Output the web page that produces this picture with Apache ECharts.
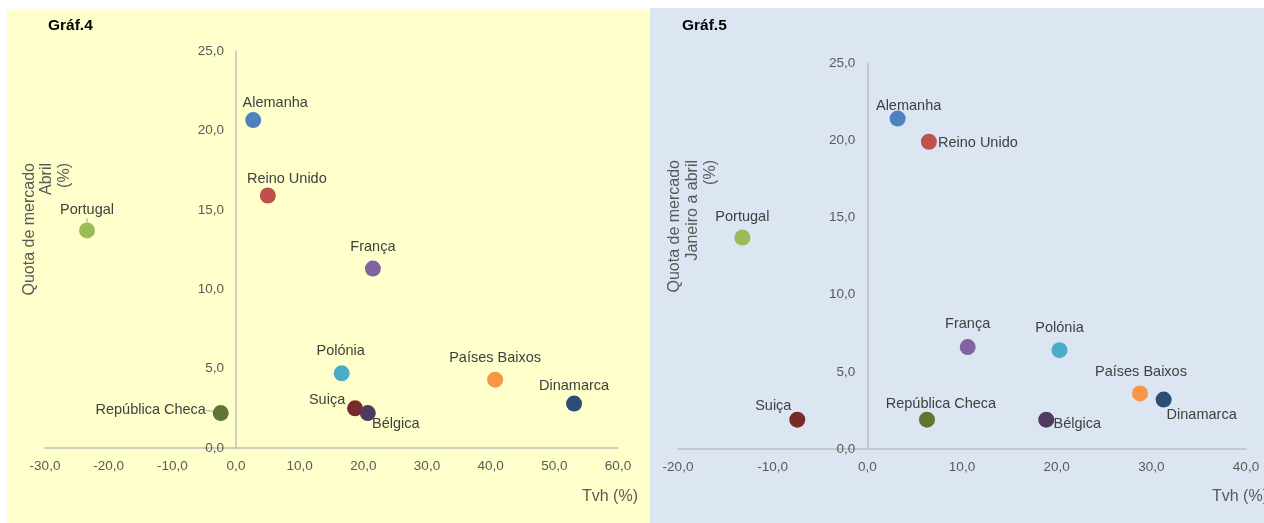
<!DOCTYPE html>
<html>
<head>
<meta charset="utf-8">
<script src="https://cdn.jsdelivr.net/npm/echarts@6/dist/echarts.min.js"></script>
<style>
html,body{margin:0;padding:0;background:#fff;}
#wrap{position:relative;width:1264px;height:523px;overflow:hidden;}
#p1{position:absolute;left:7px;top:9px;width:643px;height:514px;background:#FFFFCC;}
#p2{position:absolute;left:650px;top:8px;width:614px;height:515px;background:#DCE6F2;}
#chart{position:absolute;left:0;top:0;width:1264px;height:523px;}
</style>
</head>
<body>
<div id="wrap"><div id="p1"></div><div id="p2"></div><div id="chart"></div></div>
<script>
// ---- data ----
const countries = ['Alemanha','Reino Unido','Portugal','França','Polónia','República Checa','Suiça','Bélgica','Países Baixos','Dinamarca'];
const tvhAbril    = [2.7, 5.0, -23.4, 21.5, 16.6, -2.4, 18.7, 20.7, 40.7, 53.1];
const quotaAbril  = [20.65, 15.9, 13.7, 11.3, 4.7, 2.2, 2.5, 2.2, 4.3, 2.8];
const tvhJanAbr   = [3.2, 6.5, -13.2, 10.6, 20.3, 6.3, -7.4, 18.9, 28.8, 31.3];
const quotaJanAbr = [21.4, 19.9, 13.7, 6.6, 6.4, 1.9, 1.9, 1.9, 3.6, 3.2];
const xTicks4 = [-30, -20, -10, 0, 10, 20, 30, 40, 50, 60];
const xTicks5 = [-20, -10, 0, 10, 20, 30, 40];
const yTicks  = [0, 5, 10, 15, 20, 25];

// ---- styles / layout ----
const colors = {
  'Alemanha':'#4F81BD','Reino Unido':'#C0504D','Portugal':'#9BBB59','França':'#8064A2',
  'Polónia':'#4BACC6','República Checa':'#5F7530','Suiça':'#772C2A','Bélgica':'#4D3B62',
  'Países Baixos':'#F79646','Dinamarca':'#2C4D75'
};
const off4 = {
  'Alemanha':[22,-17],'Reino Unido':[19,-17],'Portugal':[0,-20],'França':[0,-22],'Polónia':[-1,-22],
  'República Checa':[-70,-3],'Suiça':[-28,-8],'Bélgica':[28,11],'Países Baixos':[0,-22],'Dinamarca':[0,-18]
};
const off5 = {
  'Alemanha':[11,-13],'Reino Unido':[49,1],'Portugal':[0,-20],'França':[0,-23],'Polónia':[0,-22],
  'República Checa':[14,-16],'Suiça':[-24,-14],'Bélgica':[31,4],'Países Baixos':[1,-21],'Dinamarca':[38,15]
};
const leader4 = ['Portugal', 'República Checa'];
const grids = [
  { left: 45, top: 51, width: 573, height: 397 },
  { left: 678, top: 63, width: 568, height: 386 }
];

const fmt = v => v.toFixed(1).replace('.', ',');
const FONT = 'Liberation Sans, Arial, sans-serif';

function build(xs, ys, offs, leaders) {
  return countries.map((n, i) => {
    const d = {
      name: n,
      value: [xs[i], ys[i]],
      itemStyle: { color: colors[n], opacity: 1 },
      label: { offset: offs[n] }
    };
    if (leaders && leaders.indexOf(n) >= 0) {
      d.labelLine = { show: true, length2: 0, lineStyle: { color: '#A6A6A6', width: 1 } };
    }
    return d;
  });
}

function xAxis(ticks, gi) {
  return {
    type: 'value', gridIndex: gi, min: ticks[0], max: ticks[ticks.length - 1], interval: 10,
    splitLine: { show: false }, axisTick: { show: false },
    axisLine: { onZero: true, lineStyle: { color: '#BFBFBF', width: 1.5 } },
    axisLabel: { formatter: fmt, color: '#595959', fontSize: 13.5, fontFamily: FONT, margin: 11 }
  };
}
function yAxis(gi, xt) {
  // place the y axis where x = 0 (offset inward from the grid's left edge)
  const g = grids[gi];
  const zeroPx = (0 - xt[0]) / (xt[xt.length - 1] - xt[0]) * g.width;
  return {
    type: 'value', gridIndex: gi, min: yTicks[0], max: yTicks[yTicks.length - 1], interval: 5,
    offset: -zeroPx,
    splitLine: { show: false }, axisTick: { show: false },
    axisLine: { onZero: false, lineStyle: { color: '#BFBFBF', width: 1.5 } },
    axisLabel: { formatter: fmt, color: '#595959', fontSize: 13.5, fontFamily: FONT, margin: 12 }
  };
}
function series(gi, data) {
  return {
    type: 'scatter', xAxisIndex: gi, yAxisIndex: gi, symbolSize: 16, data: data,
    label: {
      show: true, position: 'inside', formatter: '{b}',
      color: '#404040', fontSize: 14.5, fontFamily: FONT
    }
  };
}
function yTitle(x, top, txt) {
  return { type: 'text', x: x, y: top, rotation: Math.PI / 2,
    style: { text: txt, fill: '#595959', font: '16px ' + FONT, textAlign: 'right', textVerticalAlign: 'middle' } };
}

const chart = echarts.init(document.getElementById('chart'));
chart.setOption({
  animation: false,
  grid: grids,
  xAxis: [xAxis(xTicks4, 0), xAxis(xTicks5, 1)],
  yAxis: [yAxis(0, xTicks4), yAxis(1, xTicks5)],
  series: [
    series(0, build(tvhAbril, quotaAbril, off4, leader4)),
    series(1, build(tvhJanAbr, quotaJanAbr, off5, null))
  ],
  graphic: [
    { type: 'text', x: 48, y: 26, style: { text: 'Gráf.4', fill: '#000', font: 'bold 15.5px ' + FONT, textVerticalAlign: 'middle' } },
    { type: 'text', x: 682, y: 26, style: { text: 'Gráf.5', fill: '#000', font: 'bold 15.5px ' + FONT, textVerticalAlign: 'middle' } },
    yTitle(30, 163, 'Quota de mercado'),
    yTitle(47, 163, 'Abril'),
    yTitle(65, 163, '(%)'),
    yTitle(675, 160, 'Quota de mercado'),
    yTitle(693, 160, 'Janeiro a abril'),
    yTitle(711, 160, '(%)'),
    { type: 'text', x: 582, y: 497, style: { text: 'Tvh (%)', fill: '#595959', font: '16px ' + FONT, textVerticalAlign: 'middle' } },
    { type: 'text', x: 1212, y: 497, style: { text: 'Tvh (%)', fill: '#595959', font: '16px ' + FONT, textVerticalAlign: 'middle' } }
  ]
});
</script>
</body>
</html>
